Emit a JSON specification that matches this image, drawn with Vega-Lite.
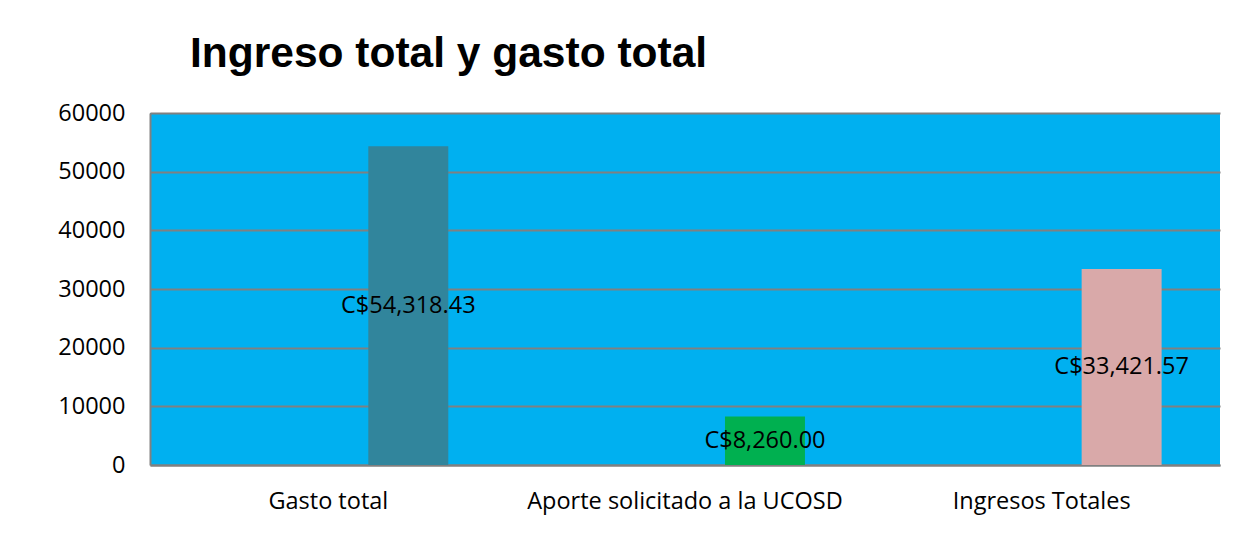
{
  "$schema": "https://vega.github.io/schema/vega-lite/v6.json",
  "width": 1070,
  "height": 352,
  "autosize": {"type": "none"},
  "padding": {"left": 150, "top": 113, "right": 26, "bottom": 94},
  "background": "white",
  "title": {
    "text": "Ingreso total y gasto total",
    "anchor": "start",
    "frame": "group",
    "dx": 40,
    "offset": 26,
    "fontSize": 42.5,
    "font": "Liberation Sans",
    "fontWeight": "bold",
    "color": "black"
  },
  "config": {
    "view": {"stroke": null, "fill": "#00B0F0"},
    "axis": {"labelFont": "Open Sans", "labelFontSize": 23.5, "labelColor": "black"}
  },
  "data": {
    "values": [
      {"categoria": "Gasto total", "valor": 54318.43, "etiqueta": "C$54,318.43", "serie": "s3"},
      {"categoria": "Aporte solicitado a la UCOSD", "valor": 8260.0, "etiqueta": "C$8,260.00", "serie": "s3"},
      {"categoria": "Ingresos Totales", "valor": 33421.57, "etiqueta": "C$33,421.57", "serie": "s3"}
    ]
  },
  "transform": [{"calculate": "datum.valor / 2", "as": "mitad"}],
  "encoding": {
    "x": {
      "field": "categoria",
      "type": "nominal",
      "sort": null,
      "scale": {"paddingInner": 0, "paddingOuter": 0},
      "axis": {
        "title": null,
        "labelAngle": 0,
        "labelPadding": 24,
        "labelLimit": 400,
        "ticks": false,
        "domainColor": "#808080",
        "domainWidth": 2,
        "grid": false
      }
    },
    "xOffset": {
      "field": "serie",
      "type": "nominal",
      "scale": {"domain": ["s1", "s2", "s3"], "paddingInner": 0, "paddingOuter": 0.73}
    }
  },
  "layer": [
    {
      "mark": {"type": "bar"},
      "encoding": {
        "y": {
          "field": "valor",
          "type": "quantitative",
          "scale": {"domain": [0, 60000], "nice": false},
          "axis": {
            "title": null,
            "values": [0, 10000, 20000, 30000, 40000, 50000, 60000],
            "format": "d",
            "ticks": false,
            "labelPadding": 25,
            "domainColor": "#808080",
            "domainWidth": 2,
            "grid": true,
            "gridColor": "#808080",
            "gridWidth": 2
          }
        },
        "color": {
          "field": "categoria",
          "type": "nominal",
          "scale": {
            "domain": ["Gasto total", "Aporte solicitado a la UCOSD", "Ingresos Totales"],
            "range": ["#31859C", "#00B050", "#D9A9A9"]
          },
          "legend": null
        }
      }
    },
    {
      "mark": {"type": "text", "font": "Open Sans", "fontSize": 23.5, "color": "black", "baseline": "middle", "align": "center"},
      "encoding": {
        "y": {"field": "mitad", "type": "quantitative"},
        "text": {"field": "etiqueta", "type": "nominal"}
      }
    }
  ]
}
